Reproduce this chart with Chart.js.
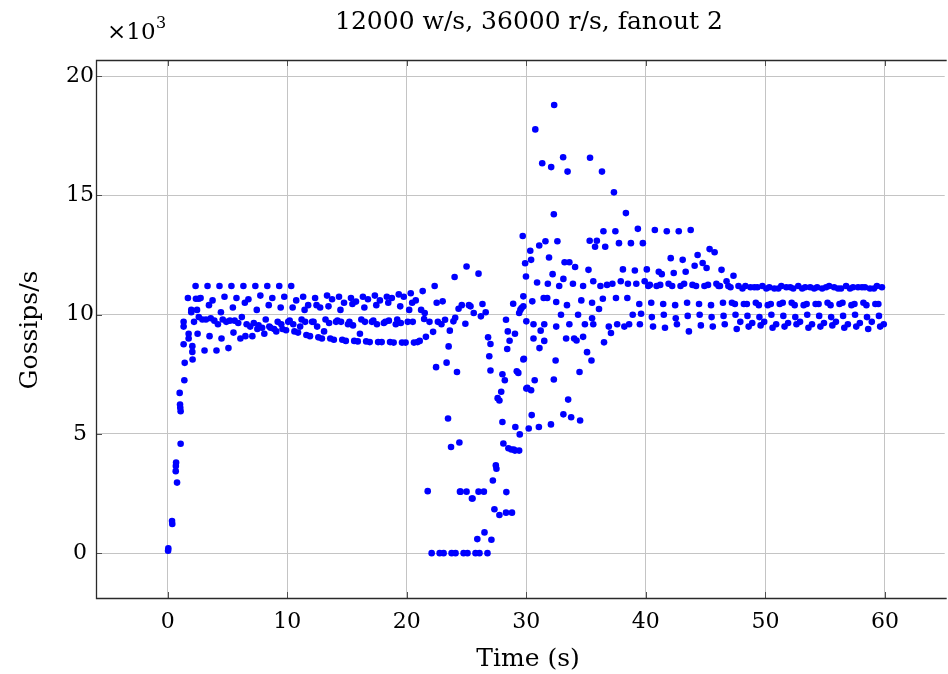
<!DOCTYPE html>
<html>
<head>
<meta charset="utf-8">
<script src="https://cdn.jsdelivr.net/npm/chart.js@4/dist/chart.umd.min.js"></script>
<style>
  html, body { margin: 0; padding: 0; background: #fff; }
  #wrap { width: 948px; height: 674px; }
</style>
</head>
<body>
<div id="wrap"><canvas id="chart" width="948" height="674"></canvas></div>
<script>
const TITLE = '12000 w/s, 36000 r/s, fanout 2';
const X_LABEL = 'Time (s)';
const Y_LABEL = 'Gossips/s';

const xTicks = [0, 10, 20, 30, 40, 50, 60];
const yTicks = [0, 5, 10, 15, 20];   // x10^3

// sample seconds shared by all nodes, plus each node's sampling phase (s)
const seconds = [2, 3, 4, 5, 6, 7, 8, 9, 10, 11, 12, 13, 14, 15, 16, 17, 18, 19, 20,
  21, 22, 23, 24, 25, 26, 27, 28, 29, 30, 31, 32, 33, 34, 35, 36, 37, 38, 39, 40,
  41, 42, 43, 44, 45, 46, 47, 48, 49, 50, 51, 52, 53, 54, 55, 56, 57, 58, 59];
const nodePhase = [0.33, 0.75, 0.08, 0.45, 0.5, 0.6, 0.2, 0.9];

// gossips/s per node (x10^3), one value per entry of `seconds`
const node1 = [11.2, 11.2, 11.2, 11.2, 11.2, 11.2, 11.2, 11.2,
  11.2, 10.75, 10.7, 10.8, 10.75, 10.7, 10.75, 10.8, 10.75, 10.85,
  10.9, 10.99, 11.2, 7.99, 10.25, 10.35, 10.45, 1.84, 2.56, 7.56, 12.68, 16.35, 18.79, 9.0, 10.0,
  16.58, 16.0, 15.13, 14.26, 13.6, 11.25, 11.7, 11.75, 11.8, 12.5, 12.75, 11.88, 11.63,
  11.2, 11.15, 11.15, 11.2, 11.1, 11.15, 11.15, 11.2, 11.1, 11.15, 11.15, 11.2];
const node2 = [10.7, 10.6, 10.75, 10.7, 10.65, 10.8, 10.7, 10.75,
  10.6, 10.4, 10.3, 10.65, 10.5, 10.55, 10.65, 10.6, 10.7, 10.75,
  10.6, 2.6, 0, 0, 0, 0, 0, 1.6, 4.35, 8.12, 17.77, 10.7, 11.2, 5.7, 11.2,
  12.85, 11.25, 13.0, 13.0, 13.0, 13.55, 13.5, 13.5, 13.55, 12.17, 12.62, 11.4, 11.2,
  11.15, 11.2, 11.1, 11.15, 11.2, 11.15, 11.1, 11.15, 11.2, 11.15, 11.1, 11.15];
const node3 = [8.12, 8.5, 8.5, 8.6, 9.0, 9.1, 9.2, 9.3,
  9.7, 9.5, 9.7, 9.3, 9.7, 9.6, 9.2, 9.7, 9.65, 9.6,
  9.7, 8.9, 0, 0, 0, 0, 0, 0.56, 4.6, 5.29, 6.93, 12.9, 16.19, 16.6, 12.0,
  8.43, 10.24, 9.23, 11.9, 11.85, 11.9, 11.8, 12.37, 12.3, 12.05, 11.96, 11.2, 11.15,
  11.1, 11.15, 11.1, 11.1, 11.15, 11.1, 11.1, 11.15, 11.1, 11.1, 11.15, 11.1];
const node4 = [10.2, 10.4, 10.1, 10.3, 10.5, 10.2, 10.4, 10.3,
  10.3, 10.2, 10.4, 10.35, 10.2, 10.45, 10.3, 10.4, 10.5, 10.35,
  10.5, 9.82, 7.8, 5.65, 2.58, 2.29, 2.58, 3.68, 9.3, 4.98, 5.79, 10.7, 8.08, 16.0, 7.6,
  8.08, 13.5, 13.5, 10.7, 10.45, 10.5, 10.45, 10.4, 10.5, 10.45, 10.4, 10.5, 10.45,
  10.45, 10.4, 10.45, 10.5, 10.4, 10.45, 10.45, 10.4, 10.5, 10.45, 10.4, 10.45];
const node5 = [9.2, 9.1, 9.0, 9.25, 9.1, 9.4, 9.5, 9.6,
  9.6, 9.7, 9.5, 9.65, 9.7, 9.55, 9.7, 9.6, 9.75, 9.65,
  9.7, 10.07, 10.5, 8.67, 2.58, 2.29, 0.87, 3.54, 4.4, 10.2, 10.56, 8.9, 10.53, 6.44, 5.56,
  9.85, 8.84, 10.7, 11.3, 9.6, 9.9, 10.0, 9.85, 9.95, 10.0, 9.9, 9.95, 10.0,
  9.95, 9.9, 10.0, 9.95, 9.9, 10.0, 9.95, 9.9, 9.95, 10.0, 9.9, 9.95];
const node6 = [9.9, 9.85, 9.8, 9.75, 9.6, 9.55, 9.45, 9.4,
  9.3, 9.15, 9.05, 9.0, 8.95, 8.9, 8.88, 8.85, 8.85, 8.83,
  8.83, 9.07, 9.7, 9.33, 10.4, 10.07, 10.1, 6.5, 8.91, 10.28, 9.0, 13.08, 13.08, 12.2, 10.6,
  11.4, 12.85, 9.6, 9.6, 10.04, 9.5, 9.45, 9.6, 9.3, 9.55, 9.5, 9.6, 9.4,
  9.5, 9.55, 9.45, 9.5, 9.6, 9.45, 9.5, 9.55, 9.45, 9.5, 9.4, 9.5];
const node7 = [9.7, 9.8, 9.6, 9.75, 9.9, 9.65, 9.8, 9.7,
  9.75, 9.8, 9.7, 9.8, 9.75, 9.7, 9.8, 9.75, 9.7, 9.8,
  10.2, 10.2, 9.28, 9.79, 7.6, 10.4, 9.93, 3.05, 7.25, 7.63, 5.23, 9.33, 11.7, 12.2, 8.92,
  11.88, 11.2, 11.3, 9.5, 11.3, 11.2, 11.25, 11.2, 11.3, 11.2, 11.25, 11.2, 10.5,
  10.45, 10.5, 10.4, 10.45, 10.5, 10.4, 10.45, 10.5, 10.45, 10.4, 10.5, 10.45];
const node8 = [9.8, 9.75, 9.7, 9.65, 9.5, 9.45, 9.4, 9.35,
  9.25, 9.1, 9.0, 8.95, 8.9, 8.88, 8.85, 8.85, 8.83, 8.83,
  8.85, 9.7, 9.6, 9.72, 9.62, 0.59, 8.26, 6.77, 10.46, 12.16, 11.35, 12.4, 10.0, 11.3, 9.6,
  13.1, 9.5, 11.4, 10.0, 11.4, 11.2, 11.3, 11.2, 11.25, 11.2, 11.3, 11.2, 9.7,
  9.65, 9.7, 9.6, 9.65, 9.7, 9.6, 9.65, 9.7, 9.6, 9.65, 9.7, 9.6];
const nodes = [node1, node2, node3, node4, node5, node6, node7, node8];

// start-up samples and off-phase samples, [time s, gossips/s x10^3]
const rampPts = [[0.03, 0.1], [0.05, 0.2], [0.36, 1.35], [0.38, 1.22], [0.67, 3.44], [0.68, 3.65],
  [0.7, 3.8], [0.78, 2.96], [1.08, 4.59], [1.08, 5.95], [1.05, 6.1], [1.03, 6.23], [1.0, 6.72],
  [1.39, 7.25], [1.42, 7.98], [1.33, 8.76], [1.33, 9.5], [1.33, 9.7], [1.75, 9.2], [1.75, 9.0],
  [1.69, 10.7], [1.97, 10.2], [1.97, 10.1], [2.06, 8.44], [2.06, 8.68], [2.6, 10.67], [2.36, 10.67]];
const strayPts = [[23.7, 4.45], [23.0, 10.56], [24.0, 11.58], [24.05, 9.87], [24.4, 4.64],
  [25.0, 12.02], [25.0, 2.58], [26.0, 11.72], [26.0, 2.58], [26.8, 9.05], [27.0, 7.66],
  [27.0, 8.77], [27.75, 6.4], [28.0, 7.5], [28.0, 5.5], [28.3, 9.79], [28.3, 1.7], [28.4, 8.56],
  [28.8, 1.7], [28.95, 4.35], [29.05, 9.2], [29.05, 4.3], [29.4, 10.07], [29.4, 4.3], [29.7, 13.3],
  [29.75, 10.35], [29.75, 10.77], [29.8, 8.15], [29.97, 11.6], [30.0, 9.72], [30.0, 6.9],
  [30.4, 12.3], [30.4, 6.83], [30.7, 7.25], [30.6, 9.6], [31.05, 5.29], [31.1, 8.6], [31.8, 11.3],
  [31.5, 9.6], [32.06, 5.4], [32.3, 14.21], [32.3, 7.28], [32.5, 9.5], [33.1, 11.5], [33.1, 5.82],
  [33.4, 10.4], [33.6, 9.6], [34.0, 9.0], [34.75, 9.07], [35.3, 13.1], [35.5, 10.5], [35.6, 9.6],
  [36.4, 10.67]];

const BLUE = '#0000ff';
const SERIF = '"DejaVu Serif", "Liberation Serif", serif';

function pointSet(points) {
  return {
    data: points,
    backgroundColor: BLUE,
    borderWidth: 0,
    pointRadius: 3.3,
    pointHoverRadius: 3.3
  };
}

const datasets = nodes.map((vals, k) =>
  pointSet(seconds.map((s, i) => ({ x: s + nodePhase[k], y: vals[i] }))));
datasets.push(pointSet(rampPts.map(p => ({ x: p[0], y: p[1] }))));
datasets.push(pointSet(strayPts.map(p => ({ x: p[0], y: p[1] }))));

const framePlugin = {
  id: 'frame',
  afterDraw(chart) {
    const { ctx, chartArea: a, scales: { x, y } } = chart;
    ctx.save();
    ctx.strokeStyle = '#505050';
    ctx.lineWidth = 1;
    ctx.beginPath();
    xTicks.forEach(v => {
      const px = Math.round(x.getPixelForValue(v)) + 0.5;
      ctx.moveTo(px, a.bottom); ctx.lineTo(px, a.bottom - 6);
      ctx.moveTo(px, a.top); ctx.lineTo(px, a.top + 6);
    });
    yTicks.forEach(v => {
      const py = Math.round(y.getPixelForValue(v)) + 0.5;
      ctx.moveTo(a.left, py); ctx.lineTo(a.left + 6, py);
    });
    ctx.stroke();

    ctx.strokeStyle = '#2a2a2a';
    ctx.lineWidth = 1.3;
    ctx.beginPath();
    ctx.moveTo(a.right + 2, a.top + 0.5);
    ctx.lineTo(a.left + 0.5, a.top + 0.5);
    ctx.lineTo(a.left + 0.5, a.bottom + 0.5);
    ctx.lineTo(a.right + 2, a.bottom + 0.5);
    ctx.stroke();

    ctx.fillStyle = '#000';
    ctx.textBaseline = 'middle';
    ctx.textAlign = 'center';
    ctx.font = '25px ' + SERIF;
    ctx.fillText(TITLE, 529, 22);
    ctx.fillText(X_LABEL, 528, 659);
    ctx.save();
    ctx.translate(30, 330);
    ctx.rotate(-Math.PI / 2);
    ctx.fillText(Y_LABEL, 0, 0);
    ctx.restore();

    ctx.textAlign = 'left';
    ctx.font = '23px ' + SERIF;
    ctx.fillText('\u00d710', 107, 33);
    ctx.font = '16px ' + SERIF;
    ctx.fillText('3', 156, 24);
    ctx.restore();
  }
};

new Chart(document.getElementById('chart'), {
  type: 'scatter',
  data: { datasets },
  options: {
    responsive: false,
    devicePixelRatio: 1,
    animation: false,
    layout: { padding: { top: 60, left: 0, right: 0, bottom: 0 } },
    plugins: { legend: { display: false }, tooltip: { enabled: false } },
    scales: {
      x: {
        type: 'linear',
        min: -6,
        max: 65,
        afterFit: s => { s.height = 76; },
        afterBuildTicks: s => { s.ticks = xTicks.map(v => ({ value: v })); },
        grid: { color: '#c4c4c4', lineWidth: 1, drawTicks: false },
        border: { display: false },
        ticks: { color: '#000', padding: 11, font: { family: SERIF, size: 22 } }
      },
      y: {
        type: 'linear',
        min: -1.88,
        max: 20.68,
        afterFit: s => { s.width = 96; },
        afterBuildTicks: s => { s.ticks = yTicks.map(v => ({ value: v })); },
        grid: { color: '#c4c4c4', lineWidth: 1, drawTicks: false },
        border: { display: false },
        ticks: { color: '#000', padding: 2, crossAlign: 'center', font: { family: SERIF, size: 22 } }
      }
    }
  },
  plugins: [framePlugin]
});
</script>
</body>
</html>
